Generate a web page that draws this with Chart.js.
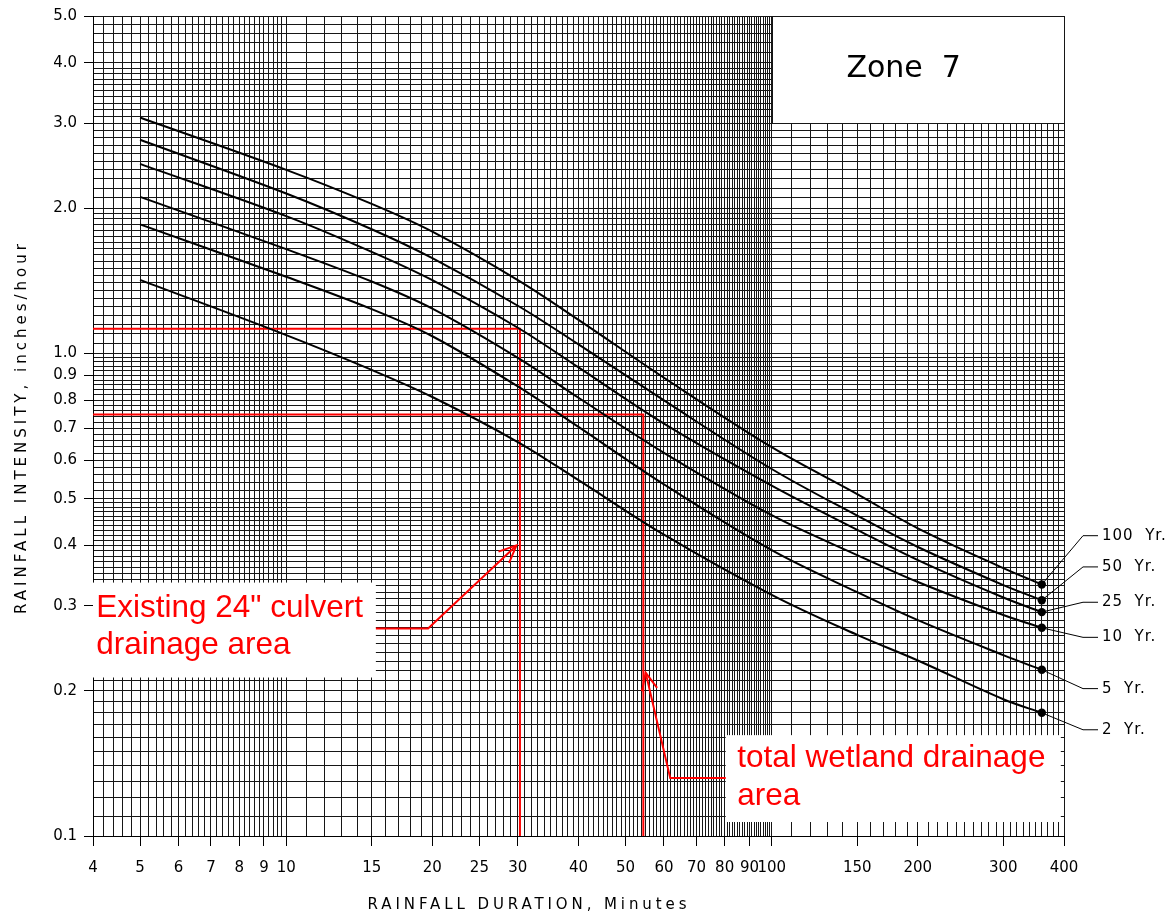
<!DOCTYPE html>
<html>
<head>
<meta charset="utf-8">
<script src="https://cdn.jsdelivr.net/npm/chart.js@4.4.1/dist/chart.umd.min.js"></script>
<style>
html,body{margin:0;padding:0;background:#fff;}
#wrap{width:1173px;height:920px;position:relative;}
</style>
</head>
<body>
<div id="wrap"><canvas id="c" width="1173" height="920"></canvas></div>
<script>
// ---------------- data ----------------
const durations = [5, 10, 15, 20, 30, 40, 60, 100, 150, 200, 300, 360];
const i100yr = [3.08, 2.40, 2.04, 1.787, 1.418, 1.173, 0.890, 0.639, 0.511, 0.434, 0.359, 0.332];
const i50yr  = [2.77, 2.144, 1.808, 1.575, 1.255, 1.044, 0.799, 0.576, 0.461, 0.397, 0.331, 0.308];
const i25yr  = [2.47, 1.925, 1.623, 1.418, 1.130, 0.935, 0.715, 0.532, 0.431, 0.373, 0.312, 0.291];
const i10yr  = [2.11, 1.644, 1.409, 1.238, 0.979, 0.809, 0.622, 0.462, 0.382, 0.336, 0.287, 0.270];
const i5yr   = [1.85, 1.441, 1.235, 1.085, 0.854, 0.704, 0.535, 0.391, 0.320, 0.280, 0.237, 0.221];
const i2yr   = [1.42, 1.091, 0.924, 0.812, 0.655, 0.546, 0.421, 0.316, 0.261, 0.231, 0.192, 0.180];
const seriesNames = ['100  Yr.', '50  Yr.', '25  Yr.', '10  Yr.', '5  Yr.', '2  Yr.'];
const seriesLabelY = [0.419, 0.361, 0.305, 0.258, 0.202, 0.166];

const xTickLabels = [4,5,6,7,8,9,10,15,20,25,30,40,50,60,70,80,90,100,150,200,300,400];
const yTickLabels = [0.1,0.2,0.3,0.4,0.5,0.6,0.7,0.8,0.9,1,2,3,4,5];

// red reference lines (duration, intensity)
const refLineA = [{x:4, y:1.124}, {x:30.3, y:1.124}, {x:30.3, y:0.1}];
const refLineB = [{x:4, y:0.747}, {x:54.4, y:0.747}, {x:54.4, y:0.1}];
// red arrows
const arrowA = [{x:15.3, y:0.269}, {x:19.6, y:0.269}, {x:29.8, y:0.40}];
const arrowB = [{x:80.4, y:0.1318}, {x:61.8, y:0.1318}, {x:55.0, y:0.218}];
// note boxes
const noteA = {x:[4, 15.3], y:[0.213, 0.335], tx:4.06, lines:['Existing 24" culvert', 'drainage area'], ly:[0.296, 0.248]};
const noteB = {x:[80.4, 394], y:[0.1069, 0.1618], tx:84.9, lines:['total wetland drainage', 'area'], ly:[0.145, 0.121]};
const zoneBox = {x:[100, 400], y:[3.0, 5.0], tx:187, ty:3.88, text:'Zone  7'};

// grid values
function buildXGrid(){
  const a=[];
  for(let i=0;i<=30;i++) a.push(+(4+i*0.2).toFixed(1));
  for(let v=11; v<=100; v++) a.push(v);
  for(let v=110; v<=400; v+=10) a.push(v);
  return a;
}
function buildYGrid(){
  const a=[];
  for(let i=0;i<=40;i++) a.push(+(0.1+i*0.01).toFixed(2));      // 0.10 .. 0.50
  for(let i=1;i<=25;i++) a.push(+(0.5+i*0.02).toFixed(2));      // 0.52 .. 1.00
  for(let i=1;i<=20;i++) a.push(+(1+i*0.05).toFixed(2));        // 1.05 .. 2.00
  for(let i=1;i<=20;i++) a.push(+(2+i*0.1).toFixed(1));         // 2.1 .. 4.0
  for(let i=1;i<=5;i++) a.push(+(4+i*0.2).toFixed(1));          // 4.2 .. 5.0
  return a;
}
const xGrid = buildXGrid();
const yGrid = buildYGrid();
const findLab = (arr, v) => arr.find(t => Math.abs(t - v) < 1e-6);

const series = [i100yr, i50yr, i25yr, i10yr, i5yr, i2yr];
const curveSets = series.map((s, k) => ({
  label: seriesNames[k],
  data: durations.map((d, i) => ({x: d, y: s[i]})),
  borderColor: '#000',
  backgroundColor: '#000',
  borderWidth: 2,
  tension: 0.35,
  pointRadius: (c) => c.dataIndex === durations.length - 1 ? 4.2 : 0,
  pointHoverRadius: 0,
  pointBackgroundColor: '#000',
  pointBorderWidth: 0
}));
const redSet = (pts) => ({
  data: pts, borderColor: '#ff0000', borderWidth: 2, pointRadius: 0, tension: 0, clip: false
});

const GRID = '#161616';

const annot = {
  id: 'annot',
  beforeDatasetsDraw(chart){
    const {ctx, chartArea: ca, scales:{x, y}} = chart;
    ctx.save();
    ctx.fillStyle = '#fff';
    for (const n of [noteA, noteB]){
      const l = x.getPixelForValue(n.x[0]), r = x.getPixelForValue(n.x[1]);
      const t = y.getPixelForValue(n.y[1]), b = y.getPixelForValue(n.y[0]);
      ctx.fillRect(l, t, r - l, b - t);
    }
    // zone box
    const zl = Math.round(x.getPixelForValue(zoneBox.x[0]));
    const zb = Math.round(y.getPixelForValue(zoneBox.y[0]));
    ctx.fillRect(zl, ca.top, ca.right - zl, zb - ca.top);
    ctx.strokeStyle = GRID;
    ctx.lineWidth = 1;
    ctx.beginPath();
    ctx.moveTo(zl + 0.5, ca.top); ctx.lineTo(zl + 0.5, zb + 0.5); ctx.lineTo(ca.right, zb + 0.5);
    ctx.moveTo(zl, ca.top + 0.5); ctx.lineTo(ca.right + 0.5, ca.top + 0.5); ctx.lineTo(ca.right + 0.5, zb);
    ctx.stroke();
    ctx.fillStyle = '#000';
    ctx.font = '30px "DejaVu Sans"';
    ctx.textAlign = 'center';
    ctx.textBaseline = 'middle';
    ctx.fillText(zoneBox.text, x.getPixelForValue(zoneBox.tx), y.getPixelForValue(zoneBox.ty));
    ctx.restore();
  },
  afterDatasetsDraw(chart){
    const {ctx, chartArea: ca, scales:{x, y}} = chart;
    ctx.save();
    // arrows
    ctx.strokeStyle = '#ff0000';
    ctx.lineWidth = 2;
    for (const a of [arrowA, arrowB]){
      const p = a.map(q => ({x: x.getPixelForValue(q.x), y: y.getPixelForValue(q.y)}));
      ctx.beginPath();
      ctx.moveTo(p[0].x, p[0].y);
      for (let i = 1; i < p.length; i++) ctx.lineTo(p[i].x, p[i].y);
      ctx.stroke();
      const tip = p[p.length - 1], prev = p[p.length - 2];
      const ang = Math.atan2(tip.y - prev.y, tip.x - prev.x);
      const L = 19, w = 0.42;
      ctx.beginPath();
      ctx.moveTo(tip.x - L * Math.cos(ang - w), tip.y - L * Math.sin(ang - w));
      ctx.lineTo(tip.x, tip.y);
      ctx.lineTo(tip.x - L * Math.cos(ang + w), tip.y - L * Math.sin(ang + w));
      ctx.stroke();
    }
    // red notes
    ctx.fillStyle = '#ff0000';
    ctx.font = '31.5px "Liberation Sans", Arial, sans-serif';
    ctx.textAlign = 'left';
    ctx.textBaseline = 'middle';
    for (const n of [noteA, noteB]){
      n.lines.forEach((s, i) => ctx.fillText(s, x.getPixelForValue(n.tx), y.getPixelForValue(n.ly[i])));
    }
    // leaders and series labels
    ctx.strokeStyle = '#000';
    ctx.lineWidth = 1;
    ctx.fillStyle = '#000';
    ctx.font = '15px "DejaVu Sans"';
    if ('letterSpacing' in ctx) ctx.letterSpacing = '1px';
    curveSets.forEach((ds, k) => {
      const meta = chart.getDatasetMeta(k);
      const pt = meta.data[meta.data.length - 1];
      const ly = y.getPixelForValue(seriesLabelY[k]);
      ctx.beginPath();
      ctx.moveTo(pt.x, pt.y);
      ctx.lineTo(ca.right + 19, ly);
      ctx.lineTo(ca.right + 34, ly);
      ctx.stroke();
      ctx.fillText(seriesNames[k], ca.right + 38, ly);
    });
    ctx.restore();
  },
  afterDraw(chart){
    const {ctx} = chart;
    ctx.save();
    ctx.fillStyle = '#000';
    ctx.font = '15px "DejaVu Sans"';
    ctx.textAlign = 'center';
    ctx.textBaseline = 'middle';
    if ('letterSpacing' in ctx) ctx.letterSpacing = '3.9px';
    ctx.fillText('RAINFALL DURATION, Minutes', 529, 905);
    ctx.translate(22, 427);
    ctx.rotate(-Math.PI / 2);
    if ('letterSpacing' in ctx) ctx.letterSpacing = '4px';
    ctx.fillText('RAINFALL INTENSITY, inches/hour', 0, 0);
    ctx.restore();
  }
};

new Chart(document.getElementById('c'), {
  type: 'line',
  data: {
    datasets: [...curveSets, redSet(refLineA), redSet(refLineB)]
  },
  options: {
    responsive: false,
    animation: false,
    devicePixelRatio: 1,
    layout: {padding: {left: 0, top: 14, right: 109, bottom: 0}},
    plugins: {legend: {display: false}, tooltip: {enabled: false}},
    events: [],
    scales: {
      x: {
        type: 'logarithmic', position: 'bottom', min: 4, max: 400,
        afterBuildTicks: (s) => { s.ticks = xGrid.map(v => ({value: v})); },
        afterFit: (s) => { s.height = 84; },
        ticks: {
          autoSkip: false, maxRotation: 0, minRotation: 0, padding: 13,
          color: '#000', font: {family: 'DejaVu Sans', size: 15},
          callback: (v) => { const m = findLab(xTickLabels, v); return m === undefined ? '' : String(m); }
        },
        grid: {
          color: GRID, lineWidth: 1, drawTicks: true, tickLength: 10,
          tickColor: (c) => (c.tick && findLab(xTickLabels, c.tick.value) !== undefined) ? '#000' : 'rgba(0,0,0,0)'
        },
        border: {display: true, color: '#000', width: 1}
      },
      y: {
        type: 'logarithmic', position: 'left', min: 0.1, max: 5,
        afterBuildTicks: (s) => { s.ticks = yGrid.map(v => ({value: v})); },
        afterFit: (s) => { s.width = 93; },
        ticks: {
          autoSkip: false, padding: 7,
          color: '#000', font: {family: 'DejaVu Sans', size: 15},
          callback: (v) => { const m = findLab(yTickLabels, v); return m === undefined ? '' : m.toFixed(1); }
        },
        grid: {
          color: GRID, lineWidth: 1, drawTicks: true, tickLength: 9,
          tickColor: (c) => (c.tick && findLab(yTickLabels, c.tick.value) !== undefined) ? '#000' : 'rgba(0,0,0,0)'
        },
        border: {display: true, color: '#000', width: 1}
      }
    }
  },
  plugins: [annot]
});
</script>
</body>
</html>
